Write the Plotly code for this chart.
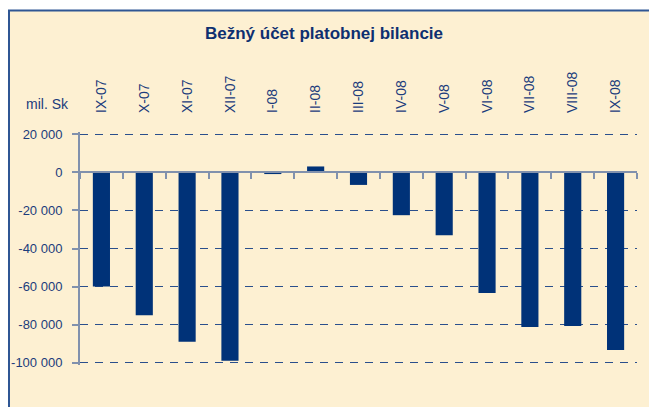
import plotly.graph_objects as go

categories = ["IX-07", "X-07", "XI-07", "XII-07", "I-08", "II-08", "III-08",
              "IV-08", "V-08", "VI-08", "VII-08", "VIII-08", "IX-08"]
values = [-60000, -75000, -89000, -99000, -900, 3100, -6600,
          -22500, -33000, -63400, -81200, -80700, -93300]
y_tickvals = [20000, 0, -20000, -40000, -60000, -80000, -100000]
y_ticktext = ["20 000", "0", "-20 000", "-40 000", "-60 000", "-80 000", "-100 000"]
title_text = "Bežný účet platobnej bilancie"
unit_text = "mil. Sk"

W, H = 657, 407
OFF = 8  # page body margin around the figure

ymin, ymax = -100000, 20000
pad = 1200
lo, hi = ymin - pad, ymax + pad

# desired positions in page pixels: y=20000 at 134, y=-100000 at 363; x from 80 to 637
TOP, BOT = 134, 363
pad_px = pad * (BOT - TOP) / (ymax - ymin)
ML = 80 - OFF
MR = W - (637 - OFF)
MT = TOP - pad_px - OFF
MB = H - (BOT + pad_px - OFF)
PW, PH = W - ML - MR, H - MT - MB

BAR = "#003278"
TXT = "#1B3C7C"
AXIS = "#8191AD"
GRID = "#2A4F8C"
CREAM = "#FDF0D2"
FRAME = "#2F5694"

def px_x(p):
    return (p - OFF - ML) / PW

def px_y(p):
    return (H - MB - (p - OFF)) / PH

fig = go.Figure()
fig.add_trace(go.Bar(x=categories, y=values, marker_color=BAR,
                     marker_line_width=0, xaxis="x", yaxis="y",
                     hoverinfo="x+y"))
fig.add_trace(go.Scatter(x=categories, y=values, mode="markers",
                         marker=dict(opacity=0), xaxis="x2", yaxis="y",
                         hoverinfo="skip", showlegend=False))

fig.update_layout(
    width=W, height=H,
    margin=dict(l=ML, r=MR, t=MT, b=MB, pad=0, autoexpand=False),
    paper_bgcolor="white",
    plot_bgcolor="rgba(0,0,0,0)",
    showlegend=False,
    bargap=0.6,
    font=dict(family="Liberation Sans, Arial, sans-serif", size=14, color=TXT),
    title=dict(text="<b>" + title_text + "</b>", xref="container", yref="container",
               x=(324 - OFF) / W, y=1 - (33.5 - OFF) / H, xanchor="center",
               yanchor="middle",
               font=dict(size=17, color="#0E2F70",
                         family="Liberation Sans, Arial, sans-serif")),
    xaxis=dict(type="category", side="top", range=[-0.5, len(categories) - 0.5],
               tickangle=-90, showline=False, showgrid=False, zeroline=False,
               ticks="", ticklabelstandoff=int(round(16 + pad_px)), automargin=False,
               tickfont=dict(size=14, color=TXT)),
    xaxis2=dict(type="category", overlaying="x", anchor="free",
                position=(0 - lo) / (hi - lo), side="bottom",
                range=[-0.5, len(categories) - 0.5],
                showline=True, linecolor=AXIS, linewidth=2,
                ticks="outside", ticklen=6, tickwidth=1.5, tickcolor=AXIS,
                tickson="boundaries", showticklabels=False, showgrid=False,
                zeroline=False, automargin=False),
    yaxis=dict(range=[lo, hi], domain=[0, 1], tickvals=y_tickvals,
               ticktext=y_ticktext, showline=True, linecolor=AXIS, linewidth=2,
               ticks="outside", ticklen=6, tickwidth=1.5, tickcolor=AXIS,
               ticklabelstandoff=7, automargin=False,
               showgrid=True, gridcolor=GRID, gridwidth=1, griddash="8px,7px",
               zeroline=False, tickfont=dict(size=13, color=TXT)),
)

# chart frame (cream panel with blue border, extending past the window)
fig.add_shape(type="rect", xref="paper", yref="paper", layer="below",
              x0=px_x(OFF + 1), x1=px_x(W + 20), y0=px_y(H + 20), y1=px_y(10),
              fillcolor=CREAM, line=dict(color=FRAME, width=2))

fig.add_annotation(text=unit_text, xref="paper", yref="paper",
                   x=px_x(24), y=px_y(104), xanchor="left", yanchor="middle",
                   showarrow=False, font=dict(size=14, color=TXT))

fig.write_html("out.html")
